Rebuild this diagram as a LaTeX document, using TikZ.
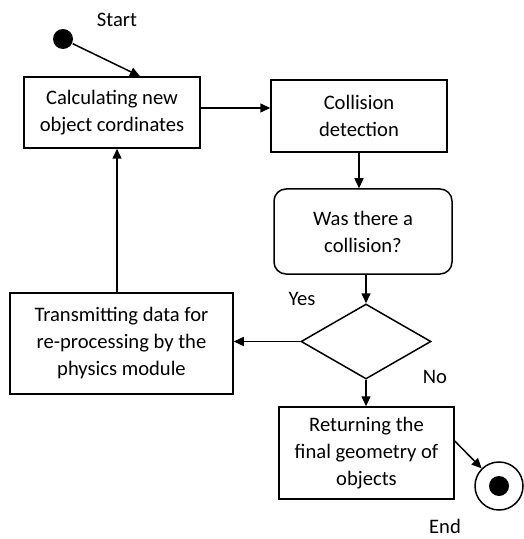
\documentclass[tikz,border=0pt]{standalone}
\usepackage{fontspec}
\setmainfont{Carlito}
\usetikzlibrary{arrows.meta,shapes.geometric}
\begin{document}
\begin{tikzpicture}[x=0.5pt,y=-0.5pt,
  font=\fontsize{10.3pt}{13.5pt}\selectfont,
  every path/.style={line width=0.75pt},
  conn/.style={draw, -{Triangle[length=5pt,width=4.5pt]}},
  box/.style={draw, line width=0.75pt, align=center, inner sep=2pt},
  lbl/.style={inner sep=0pt}]
\useasboundingbox (0,0) rectangle (523,539);
\node[lbl] (starttxt) at (117,20) {Start};
\node[lbl] (yes) at (302,299) {Yes};
\node[lbl] (no) at (435,377) {No};
\node[lbl] (endtxt) at (445,526) {End};
\node[circle, fill, minimum size=10pt, inner sep=0pt] (start) at (63,39) {};
\node[box, minimum width=88pt, minimum height=35.5pt] (calc) at (112,112.5) {Calculating new\\object cordinates};
\node[box, minimum width=88pt, minimum height=36pt] (coll) at (359,116) {Collision\\detection};
\node[box, rounded corners=6pt, minimum width=89pt, minimum height=42.5pt] (was) at (363,231.5) {Was there a\\collision?};
\node[draw, diamond, minimum width=65pt, minimum height=37.5pt, inner sep=0pt, line width=0.75pt] (dec) at (366,341.5) {};
\node[box, minimum width=111.5pt, minimum height=50.5pt] (trans) at (121.5,343.5) {Transmitting data for\\re-processing by the\\physics module};
\node[box, minimum width=87.5pt, minimum height=46pt] (ret) at (366.5,453) {Returning the\\final geometry of\\objects};
\node[circle, draw, minimum size=24pt, inner sep=0pt, line width=0.75pt] (end) at (499,486) {};
\node[circle, fill, minimum size=10pt, inner sep=0pt] (enddot) at (end.center) {};
\draw[conn] (start) -- (calc.north -| 140,0);
\draw[conn] (calc.east |- 0,108) -- (coll.west |- 0,108);
\draw[conn] (coll.south) -- (coll.south |- was.north);
\draw[conn] (was.south -| dec.north) -- (dec.north);
\draw[conn] (dec.west) -- (dec.west -| trans.east);
\draw[conn] (trans.north -| 117,0) -- (calc.south -| 117,0);
\draw[conn] (dec.south) -- (dec.south |- ret.north);
\draw[conn] (ret.east |- 0,441) -- (end);
\end{tikzpicture}
\end{document}
